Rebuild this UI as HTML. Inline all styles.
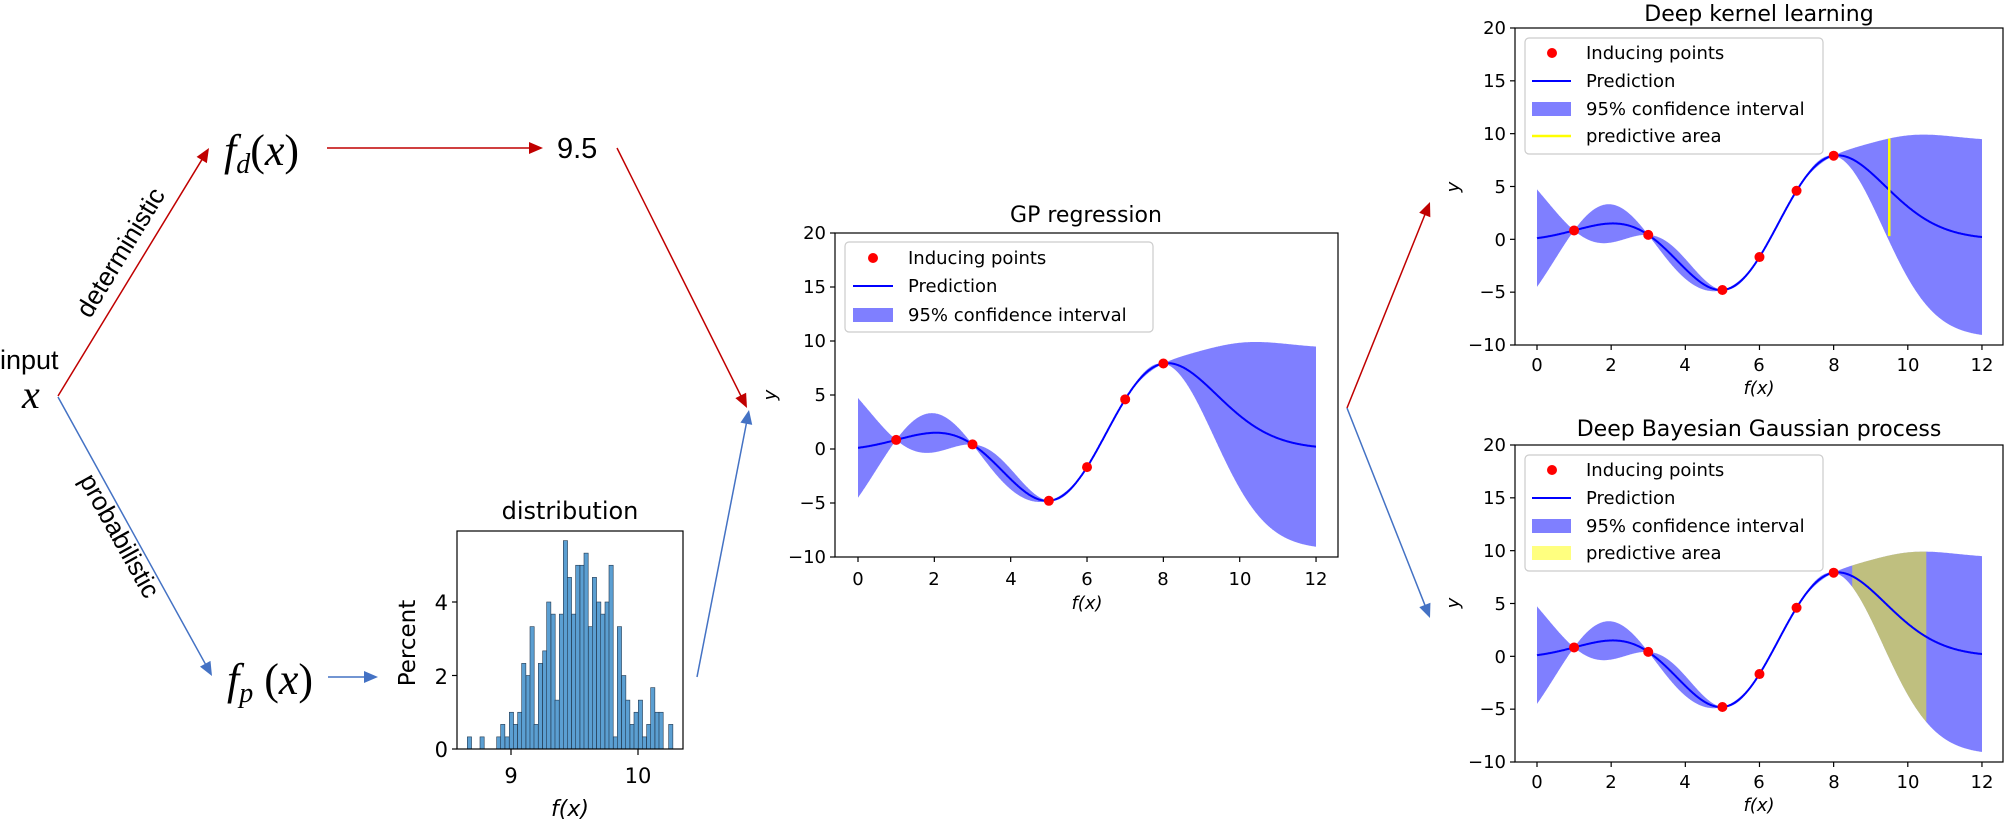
<!DOCTYPE html>
<html><head><meta charset="utf-8">
<style>
html,body{margin:0;padding:0;background:#fff;}
svg{display:block;}
.mp{font-family:"DejaVu Sans","Liberation Sans",sans-serif;fill:#000;}
.t18{font-size:18px;}
.t22{font-size:22px;}
.lt{font-family:"Liberation Sans",sans-serif;}
.math{font-family:"Liberation Serif",serif;font-style:italic;}
</style></head>
<body>
<svg id="s" width="2006" height="822" viewBox="0 0 2006 822" xmlns="http://www.w3.org/2000/svg">
<g id="g"></g>
<text class="lt" x="0" y="369" font-size="27">input</text>
<text class="math" x="22" y="408" font-size="40">x</text>
<text class="lt" font-size="26" transform="translate(128,257) rotate(-58.7)" text-anchor="middle">deterministic</text>
<text class="lt" font-size="26" transform="translate(112,540) rotate(61)" text-anchor="middle">probabilistic</text>
<text class="math" x="224" y="165" font-size="44">f<tspan font-size="28" dy="8">d</tspan><tspan dy="-8" font-style="normal">(</tspan>x<tspan font-style="normal">)</tspan></text>
<text class="lt" x="557" y="158" font-size="29">9.5</text>
<text class="math" x="227" y="694" font-size="44">f<tspan font-size="28" dy="8">p</tspan><tspan dy="-8" font-style="normal"> (</tspan>x<tspan font-style="normal">)</tspan></text>
<text class="mp" x="570" y="519" font-size="24" text-anchor="middle">distribution</text>
<text class="mp" font-size="23" transform="translate(415,643) rotate(-90)" text-anchor="middle">Percent</text>
<text class="mp" x="448" y="757" font-size="21" text-anchor="end">0</text>
<text class="mp" x="448" y="684" font-size="21" text-anchor="end">2</text>
<text class="mp" x="448" y="610" font-size="21" text-anchor="end">4</text>
<text class="mp" x="511" y="783" font-size="21" text-anchor="middle">9</text>
<text class="mp" x="638" y="783" font-size="21" text-anchor="middle">10</text>
<text class="mp" x="570" y="816" font-size="22" text-anchor="middle" font-style="italic">f(x)</text>

<text class="mp t22" x="1086" y="222" text-anchor="middle">GP regression</text>
<g class="mp t18" text-anchor="end">
<text x="826" y="239">20</text><text x="826" y="293">15</text><text x="826" y="347">10</text>
<text x="826" y="401">5</text><text x="826" y="455">0</text><text x="826" y="509">−5</text><text x="826" y="563">−10</text>
</g>
<g class="mp t18" text-anchor="middle">
<text x="858" y="585">0</text><text x="934" y="585">2</text><text x="1011" y="585">4</text><text x="1087" y="585">6</text>
<text x="1163" y="585">8</text><text x="1240" y="585">10</text><text x="1316" y="585">12</text>
<text x="1087" y="609" font-style="italic">f(x)</text>
</g>
<text class="mp t18" font-style="italic" transform="translate(776,395) rotate(-90)" text-anchor="middle">y</text>

<text class="mp t22" x="1759" y="21" text-anchor="middle">Deep kernel learning</text>
<g class="mp t18" text-anchor="end">
<text x="1506" y="34">20</text><text x="1506" y="87">15</text><text x="1506" y="140">10</text>
<text x="1506" y="193">5</text><text x="1506" y="246">0</text><text x="1506" y="298">−5</text><text x="1506" y="351">−10</text>
</g>
<g class="mp t18" text-anchor="middle">
<text x="1537" y="371">0</text><text x="1611" y="371">2</text><text x="1685" y="371">4</text><text x="1759" y="371">6</text>
<text x="1834" y="371">8</text><text x="1908" y="371">10</text><text x="1982" y="371">12</text>
<text x="1759" y="394" font-style="italic">f(x)</text>
</g>
<text class="mp t18" font-style="italic" transform="translate(1459,187) rotate(-90)" text-anchor="middle">y</text>

<text class="mp t22" x="1759" y="436" text-anchor="middle">Deep Bayesian Gaussian process</text>
<g class="mp t18" text-anchor="end">
<text x="1506" y="451">20</text><text x="1506" y="504">15</text><text x="1506" y="557">10</text>
<text x="1506" y="610">5</text><text x="1506" y="663">0</text><text x="1506" y="715">−5</text><text x="1506" y="768">−10</text>
</g>
<g class="mp t18" text-anchor="middle">
<text x="1537" y="788">0</text><text x="1611" y="788">2</text><text x="1685" y="788">4</text><text x="1759" y="788">6</text>
<text x="1834" y="788">8</text><text x="1908" y="788">10</text><text x="1982" y="788">12</text>
<text x="1759" y="811" font-style="italic">f(x)</text>
</g>
<text class="mp t18" font-style="italic" transform="translate(1459,603) rotate(-90)" text-anchor="middle">y</text>

<g id="legends"></g>
<g class="mp t18">
<text x="908" y="264">Inducing points</text>
<text x="908" y="292">Prediction</text>
<text x="908" y="321">95% confidence interval</text>
<text x="1586" y="59">Inducing points</text>
<text x="1586" y="87">Prediction</text>
<text x="1586" y="115">95% confidence interval</text>
<text x="1586" y="142">predictive area</text>
<text x="1586" y="476">Inducing points</text>
<text x="1586" y="504">Prediction</text>
<text x="1586" y="532">95% confidence interval</text>
<text x="1586" y="559">predictive area</text>
</g>
</svg>
<script>
(function(){
var NS="http://www.w3.org/2000/svg",g=document.getElementById('g'),lg=document.getElementById('legends');
function el(p,n,a){var e=document.createElementNS(NS,n);for(var k in a)e.setAttribute(k,a[k]);p.appendChild(e);return e;}
function line(p,x1,y1,x2,y2,c,w){return el(p,'line',{x1:x1,y1:y1,x2:x2,y2:y2,stroke:c,'stroke-width':w});}
function arrow(x1,y1,x2,y2,c){
  var dx=x2-x1,dy=y2-y1,L=Math.hypot(dx,dy),ux=dx/L,uy=dy/L,h=14,w=6;
  line(g,x1,y1,x2-ux*h*0.8,y2-uy*h*0.8,c,1.5);
  var bx=x2-ux*h,by=y2-uy*h;
  el(g,'polygon',{points:x2+','+y2+' '+(bx-uy*w)+','+(by+ux*w)+' '+(bx+uy*w)+','+(by-ux*w),fill:c});
}
var RED='#c00000',BLU='#4472c4';
arrow(58,396,209,148,RED);
arrow(58,397,212,676,BLU);
arrow(327,148,543,148,RED);
arrow(617,148,747,408,RED);
arrow(328,677,378,677,BLU);
arrow(697,677,749,410,BLU);
arrow(1347,408,1430,202,RED);
arrow(1347,408,1430,618,BLU);

var bars=[[262,.33],[300,.33],[350,.33],[362,.67],[375,.33],[388,1],[400,.67],[413,1],[425,2.33],[438,2],[450,3.33],[462,.67],[475,2.33],[488,2.67],[500,4],[513,3.67],[525,1.33],[538,3.67],[550,5.67],[562,4.67],[575,3.67],[587,5],[600,5],[612,5.33],[625,3.33],[637,4.67],[650,4],[662,3.67],[675,4],[687,5],[700,.33],[712,3.33],[725,2],[737,1.33],[750,.67],[762,1],[775,1.33],[787,.33],[800,.67],[812,1.67],[825,1],[837,1],[866,.67]];
bars.forEach(function(b){var x=380+b[0]/3,h=b[1]*36.75;el(g,'rect',{x:x,y:749-h,width:4.2,height:h,fill:'#5b9fd2',stroke:'#22384f','stroke-width':0.6});});
el(g,'rect',{x:457,y:531,width:226,height:218,fill:'none',stroke:'#000','stroke-width':1.2});
[[749],[675.5],[602]].forEach(function(t){line(g,452,t[0],457,t[0],'#000',1.2);});
line(g,511,749,511,755,'#000',1.2);line(g,638,749,638,755,'#000',1.2);

var X=[1,3,5,6,7,8],Y=X.map(function(v){return v*Math.sin(v);}),s2=4.75*4.75,l=1.6;
function k(a,b){return s2*Math.exp(-(a-b)*(a-b)/(2*l*l));}
var n=6,K=[],I=[];
for(var i=0;i<n;i++){K.push([]);I.push([]);for(var j=0;j<n;j++){K[i].push(k(X[i],X[j])+(i==j?1e-8:0));I[i].push(i==j?1:0);}}
for(i=0;i<n;i++){var p=K[i][i];for(j=0;j<n;j++){K[i][j]/=p;I[i][j]/=p;}
 for(var r=0;r<n;r++)if(r!=i){var f=K[r][i];for(j=0;j<n;j++){K[r][j]-=f*K[i][j];I[r][j]-=f*I[i][j];}}}
function pred(x){var ks=X.map(function(v){return k(x,v);}),m=0,v=s2;
 for(var i=0;i<n;i++)for(var j=0;j<n;j++){m+=ks[i]*I[i][j]*Y[j];v-=ks[i]*I[i][j]*ks[j];}
 return [m,Math.sqrt(Math.max(v,0))];}
var pts=[];for(var t=0;t<=1200;t++){var x=t/100,q=pred(x);pts.push([x,q[0],q[1]]);}

function plot(P){
  var sx=function(v){return P.x0+v*P.xs;},sy=function(v){return P.B-(v+10)*P.ys;};
  function band(a,b,col,op){var up=[],dn=[];pts.forEach(function(p){if(p[0]>=a-1e-9&&p[0]<=b+1e-9){up.push(sx(p[0]).toFixed(1)+','+sy(p[1]+1.96*p[2]).toFixed(1));dn.unshift(sx(p[0]).toFixed(1)+','+sy(p[1]-1.96*p[2]).toFixed(1));}});
    el(g,'polygon',{points:up.concat(dn).join(' '),fill:col,'fill-opacity':op});}
  band(0,12,'#0000ff',0.5);
  if(P.yb)band(8.5,10.5,'#ffff00',0.5);
  el(g,'polyline',{points:pts.map(function(p){return sx(p[0]).toFixed(1)+','+sy(p[1]).toFixed(1);}).join(' '),fill:'none',stroke:'#0000ff','stroke-width':2});
  if(P.yl){var q=pred(9.5);line(g,sx(9.5),sy(q[0]+1.96*q[1]),sx(9.5),sy(0.3),'#ffff00',2.5);}
  X.forEach(function(v,i){el(g,'circle',{cx:sx(v),cy:sy(Y[i]),r:5,fill:'#ff0000'});});
  el(g,'rect',{x:P.L,y:P.T,width:P.R-P.L,height:P.B-P.T,fill:'none',stroke:'#000','stroke-width':1.2});
  for(var v=-10;v<=20;v+=5)line(g,P.L-5,sy(v),P.L,sy(v),'#000',1.2);
  for(v=0;v<=12;v+=2)line(g,sx(v),P.B,sx(v),P.B+5,'#000',1.2);
  var Lg=P.lg;
  el(lg,'rect',{x:Lg.x1,y:Lg.y1,width:Lg.x2-Lg.x1,height:Lg.y2-Lg.y1,rx:4,fill:'#fff','fill-opacity':0.8,stroke:'#cccccc','stroke-width':1.2});
  el(lg,'circle',{cx:Lg.mx,cy:Lg.rows[0],r:5,fill:'#ff0000'});
  line(lg,Lg.lx1,Lg.rows[1],Lg.lx2,Lg.rows[1],'#0000ff',2);
  el(lg,'rect',{x:Lg.lx1,y:Lg.rows[2]-7,width:Lg.lx2-Lg.lx1,height:14,fill:'#0000ff','fill-opacity':0.5});
  if(P.yl)line(lg,Lg.lx1,Lg.rows[3],Lg.lx2,Lg.rows[3],'#ffff00',2.5);
  if(P.yb)el(lg,'rect',{x:Lg.lx1,y:Lg.rows[3]-7,width:Lg.lx2-Lg.lx1,height:14,fill:'#ffff00','fill-opacity':0.5});
}
plot({L:835,R:1338,T:233,B:557,x0:858,xs:38.17,ys:10.8,lg:{x1:845,x2:1153,y1:242,y2:332,rows:[258,286,315],mx:873,lx1:853,lx2:893}});
plot({L:1515,R:2003,T:28,B:345,x0:1537,xs:37.08,ys:10.567,yl:1,lg:{x1:1525,x2:1823,y1:38,y2:154,rows:[53,81,109,136],mx:1552,lx1:1532,lx2:1571}});
plot({L:1515,R:2003,T:445,B:762,x0:1537,xs:37.08,ys:10.567,yb:1,lg:{x1:1525,x2:1823,y1:455,y2:571,rows:[470,498,526,553],mx:1552,lx1:1532,lx2:1571}});
})();
</script>
</body></html>
